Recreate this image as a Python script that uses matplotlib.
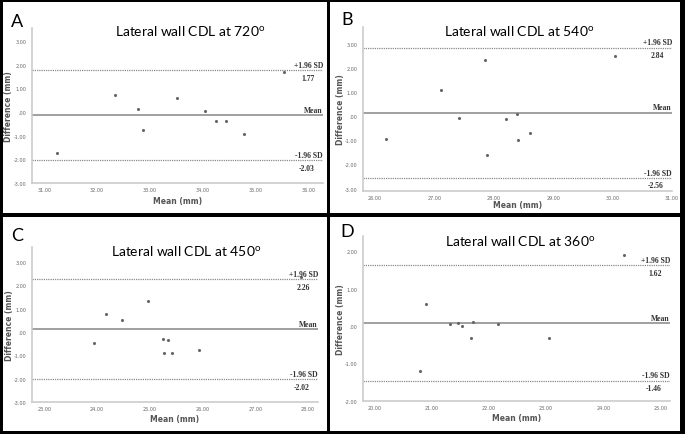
import matplotlib
matplotlib.use("Agg")
import matplotlib.pyplot as plt
from matplotlib.patches import Rectangle
from matplotlib.ticker import FuncFormatter, MultipleLocator
import matplotlib.transforms as mtransforms

plt.rcParams['mathtext.fontset'] = 'custom'
plt.rcParams['mathtext.rm'] = 'Lato'

W, H = 685, 435

# panel data (Bland-Altman)
letters = ['A', 'B', 'C', 'D']
titles = ['720', '540', '450', '360']

mean_a = [31.25, 32.34, 32.78, 32.87, 33.51, 34.05, 34.25, 34.45, 34.79, 35.54]
diff_a = [-1.74, 0.72, 0.13, -0.78, 0.58, 0.04, -0.39, -0.39, -0.92, 1.67]

mean_b = [26.19, 27.11, 27.41, 27.85, 27.89, 28.20, 28.39, 28.41, 28.61, 30.04]
diff_b = [-0.95, 1.09, -0.07, 2.33, -1.62, -0.11, 0.08, -1.00, -0.70, 2.51]

mean_c = [23.95, 24.18, 24.48, 24.96, 25.25, 25.34, 25.27, 25.42, 25.94, 27.86]
diff_c = [-0.47, 0.79, 0.51, 1.34, -0.29, -0.33, -0.91, -0.91, -0.76, 2.36]

mean_d = [20.79, 20.90, 21.32, 21.47, 21.54, 21.69, 21.73, 22.17, 23.05, 24.37]
diff_d = [-1.20, 0.60, 0.05, 0.07, 0.01, -0.33, 0.10, 0.05, -0.33, 1.89]

bias = [-0.13, 0.14, 0.12, 0.08]
upper_loa = [1.77, 2.84, 2.26, 1.62]
lower_loa = [-2.03, -2.56, -2.02, -1.46]

xlims = [(30.77, 36.28), (25.8, 31.0), (22.77, 28.19), (19.8, 25.17)]
ylims = [(-3.0, 3.55), (-3.1, 3.7), (-3.0, 3.65), (-2.0, 2.4)]

# pixel boxes: panel frame, axes area
panels = [(3, 3, 327, 214), (330, 3, 680, 214), (3, 218, 327, 432), (330, 218, 680, 432)]
axboxes = [(32, 29, 323, 184), (363, 28, 672, 192), (32, 248, 318, 403), (363, 237, 670, 402)]
title_pos = [(190, 32), (519, 32), (186, 252), (520, 242)]
letter_pos = [(17, 22), (347, 20), (17, 236), (347, 232)]
ylabel_x = [9, 340, 9, 340]
xlabel_y = [202, 206, 420, 419]

xs = [mean_a, mean_b, mean_c, mean_d]
ys = [diff_a, diff_b, diff_c, diff_d]


def fmt(v, pos):
    s = f"{v:.2f}"
    if s in ("0.00", "-0.00"):
        return ".00"
    return s


fig = plt.figure(figsize=(W / 100, H / 100), dpi=100)
fig.patch.set_facecolor('black')

for i in range(4):
    x0, y0, x1, y1 = panels[i]
    fig.patches.append(Rectangle((x0 / W, 1 - y1 / H), (x1 - x0) / W, (y1 - y0) / H,
                                 transform=fig.transFigure, facecolor='white',
                                 edgecolor='none', zorder=-10))

    a0, b0, a1, b1 = axboxes[i]
    ax = fig.add_axes([a0 / W, 1 - b1 / H, (a1 - a0) / W, (b1 - b0) / H])
    ax.set_facecolor('white')

    ax.scatter(xs[i], ys[i], s=5, color='#666666', zorder=3, linewidths=0)
    ax.axhline(bias[i], color='#999999', lw=1.3)
    ax.axhline(upper_loa[i], color='#8a8a8a', lw=0.9, ls=(0, (1, 0.8)))
    ax.axhline(lower_loa[i], color='#8a8a8a', lw=0.9, ls=(0, (1, 0.8)))

    ax.set_xlim(*xlims[i])
    ax.set_ylim(*ylims[i])
    ax.xaxis.set_major_locator(MultipleLocator(1))
    ax.yaxis.set_major_locator(MultipleLocator(1))
    ax.xaxis.set_major_formatter(FuncFormatter(fmt))
    ax.yaxis.set_major_formatter(FuncFormatter(fmt))
    ax.tick_params(axis='y', length=0, labelsize=3.5, labelcolor='#666666', pad=4)
    ax.tick_params(axis='x', length=0, labelsize=3.5, labelcolor='#666666', pad=3)

    for side in ('top', 'right'):
        ax.spines[side].set_visible(False)
    for side in ('left', 'bottom'):
        ax.spines[side].set_color('#cccccc')
        ax.spines[side].set_linewidth(1.2)

    ax.set_xlabel('Mean (mm)', fontsize=5.5, color='#555555', fontweight='bold')
    ax.set_ylabel('Difference (mm)', fontsize=5.5, color='#555555', fontweight='bold')
    ax.yaxis.set_label_coords((ylabel_x[i] - a0) / (a1 - a0), 0.5)
    ax.xaxis.set_label_coords(0.5, -(xlabel_y[i] - b1) / (b1 - b0))
    ax.xaxis.label.set_va('center')
    ax.yaxis.label.set_va('center')

    lab = dict(fontsize=5.5, color='#333333', fontweight='bold', family='Liberation Serif',
               xycoords=mtransforms.blended_transform_factory(ax.transAxes, ax.transData),
               textcoords='offset points')
    ax.annotate('+1.96 SD', (1.0, upper_loa[i]), xytext=(0, 1), ha='right', va='bottom', **lab)
    ax.annotate(f"{upper_loa[i]:.2f}", (1.0, upper_loa[i]), xytext=(-6, -2.5), ha='right', va='top', **lab)
    ax.annotate('Mean', (1.0, bias[i]), xytext=(0, 1), ha='right', va='bottom', **lab)
    ax.annotate('-1.96 SD', (1.0, lower_loa[i]), xytext=(0, 1), ha='right', va='bottom', **lab)
    ax.annotate(f"{lower_loa[i]:.2f}", (1.0, lower_loa[i]), xytext=(-6, -2.5), ha='right', va='top', **lab)

    tx, ty = title_pos[i]
    fig.text(tx / W, 1 - ty / H, 'Lateral wall CDL at ' + titles[i] + r'$^{\mathrm{o}}$',
             ha='center', va='center', fontsize=10, family='Lato', color='black')
    lx, ly = letter_pos[i]
    fig.text(lx / W, 1 - ly / H, letters[i], ha='center', va='center',
             fontsize=13, family='Lato', color='black')

fig.savefig('out.png', dpi=100, facecolor=fig.get_facecolor())
